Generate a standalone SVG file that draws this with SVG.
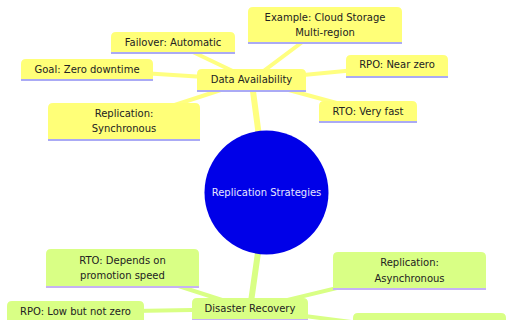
<svg xmlns="http://www.w3.org/2000/svg" width="512" height="320" viewBox="0 0 512 320">
<style>
.e0{stroke:#ffff80;fill:none;stroke-linecap:round}
.e1{stroke:#d9ff85;fill:none;stroke-linecap:round}
.root{stroke-width:6}
.child{stroke-width:4}
.b0{fill:#ffff78}
.b1{fill:#d9ff85}
.l0{stroke:#aaaaf5;stroke-width:2}
.l1{stroke:#c6b2f5;stroke-width:2}
text{font-family:"DejaVu Sans","Liberation Sans",sans-serif;font-size:10px;fill:#222;text-anchor:middle}
.rt{fill:#e6e6ff}
</style>
<rect width="512" height="320" fill="#ffffff"/>
<g id="connectors">
<line class="e0 root" x1="266.5" y1="192.5" x2="251.5" y2="80"/>
<line class="e0 child" x1="251.5" y1="80" x2="325" y2="25"/>
<line class="e0 child" x1="251.5" y1="80" x2="173" y2="42.5"/>
<line class="e0 child" x1="251.5" y1="80" x2="87" y2="69.5"/>
<line class="e0 child" x1="251.5" y1="80" x2="397" y2="66"/>
<line class="e0 child" x1="251.5" y1="80" x2="124" y2="121.5"/>
<line class="e0 child" x1="251.5" y1="80" x2="368" y2="111.5"/>
<line class="e1 root" x1="266.5" y1="192.5" x2="250" y2="309"/>
<line class="e1 child" x1="250" y1="309" x2="122.5" y2="268"/>
<line class="e1 child" x1="250" y1="309" x2="75.5" y2="312"/>
<line class="e1 child" x1="250" y1="309" x2="409.5" y2="270.5"/>
<line class="e1 child" x1="250" y1="309" x2="429.5" y2="332"/>
</g>
<g id="root">
<circle cx="266.5" cy="192.5" r="62" fill="#0000e8"/>
<text class="rt" x="266.5" y="196">Replication Strategies</text>
</g>
<g id="data-availability">
<path class="b0" d="M197,91 V74 Q197,69 202,69 H301 Q306,69 306,74 V91 Z"/>
<line class="l0" x1="197" y1="91" x2="306" y2="91"/>
<text x="251.5" y="83">Data Availability</text>
</g>
<g id="example">
<path class="b0" d="M248,43 V12 Q248,7 253,7 H397 Q402,7 402,12 V43 Z"/>
<line class="l0" x1="248" y1="43" x2="402" y2="43"/>
<text x="325" y="20.5">Example: Cloud Storage</text>
<text x="325" y="36">Multi-region</text>
</g>
<g id="failover">
<path class="b0" d="M111,53 V37 Q111,32 116,32 H230 Q235,32 235,37 V53 Z"/>
<line class="l0" x1="111" y1="53" x2="235" y2="53"/>
<text x="173" y="46">Failover: Automatic</text>
</g>
<g id="goal">
<path class="b0" d="M21,80 V64 Q21,59 26,59 H148 Q153,59 153,64 V80 Z"/>
<line class="l0" x1="21" y1="80" x2="153" y2="80"/>
<text x="87" y="73">Goal: Zero downtime</text>
</g>
<g id="rpo-near-zero">
<path class="b0" d="M346,77 V60 Q346,55 351,55 H443 Q448,55 448,60 V77 Z"/>
<line class="l0" x1="346" y1="77" x2="448" y2="77"/>
<text x="397" y="68">RPO: Near zero</text>
</g>
<g id="replication-sync">
<path class="b0" d="M48,140 V108 Q48,103 53,103 H195 Q200,103 200,108 V140 Z"/>
<line class="l0" x1="48" y1="140" x2="200" y2="140"/>
<text x="124" y="116.5">Replication:</text>
<text x="124" y="132">Synchronous</text>
</g>
<g id="rto-very-fast">
<path class="b0" d="M319,122 V106 Q319,101 324,101 H412 Q417,101 417,106 V122 Z"/>
<line class="l0" x1="319" y1="122" x2="417" y2="122"/>
<text x="368" y="114.5">RTO: Very fast</text>
</g>
<g id="disaster-recovery">
<path class="b1" d="M192,320 V303 Q192,298 197,298 H303 Q308,298 308,303 V320 Z"/>
<line class="l1" x1="192" y1="320" x2="308" y2="320"/>
<text x="250" y="312">Disaster Recovery</text>
</g>
<g id="rto-depends">
<path class="b1" d="M46,287 V254 Q46,249 51,249 H194 Q199,249 199,254 V287 Z"/>
<line class="l1" x1="46" y1="287" x2="199" y2="287"/>
<text x="122.5" y="263.5">RTO: Depends on</text>
<text x="122.5" y="279">promotion speed</text>
</g>
<g id="replication-async">
<path class="b1" d="M333,289 V257 Q333,252 338,252 H481 Q486,252 486,257 V289 Z"/>
<line class="l1" x1="333" y1="289" x2="486" y2="289"/>
<text x="409.5" y="265.5">Replication:</text>
<text x="409.5" y="281.5">Asynchronous</text>
</g>
<g id="rpo-low">
<path class="b1" d="M7,323 V306 Q7,301 12,301 H139 Q144,301 144,306 V323 Z"/>
<line class="l1" x1="7" y1="323" x2="144" y2="323"/>
<text x="75.5" y="314.5">RPO: Low but not zero</text>
</g>
<g id="bottom-right">
<path class="b1" d="M353,351 V318 Q353,313 358,313 H501 Q506,313 506,318 V351 Z"/>
</g>
</svg>
